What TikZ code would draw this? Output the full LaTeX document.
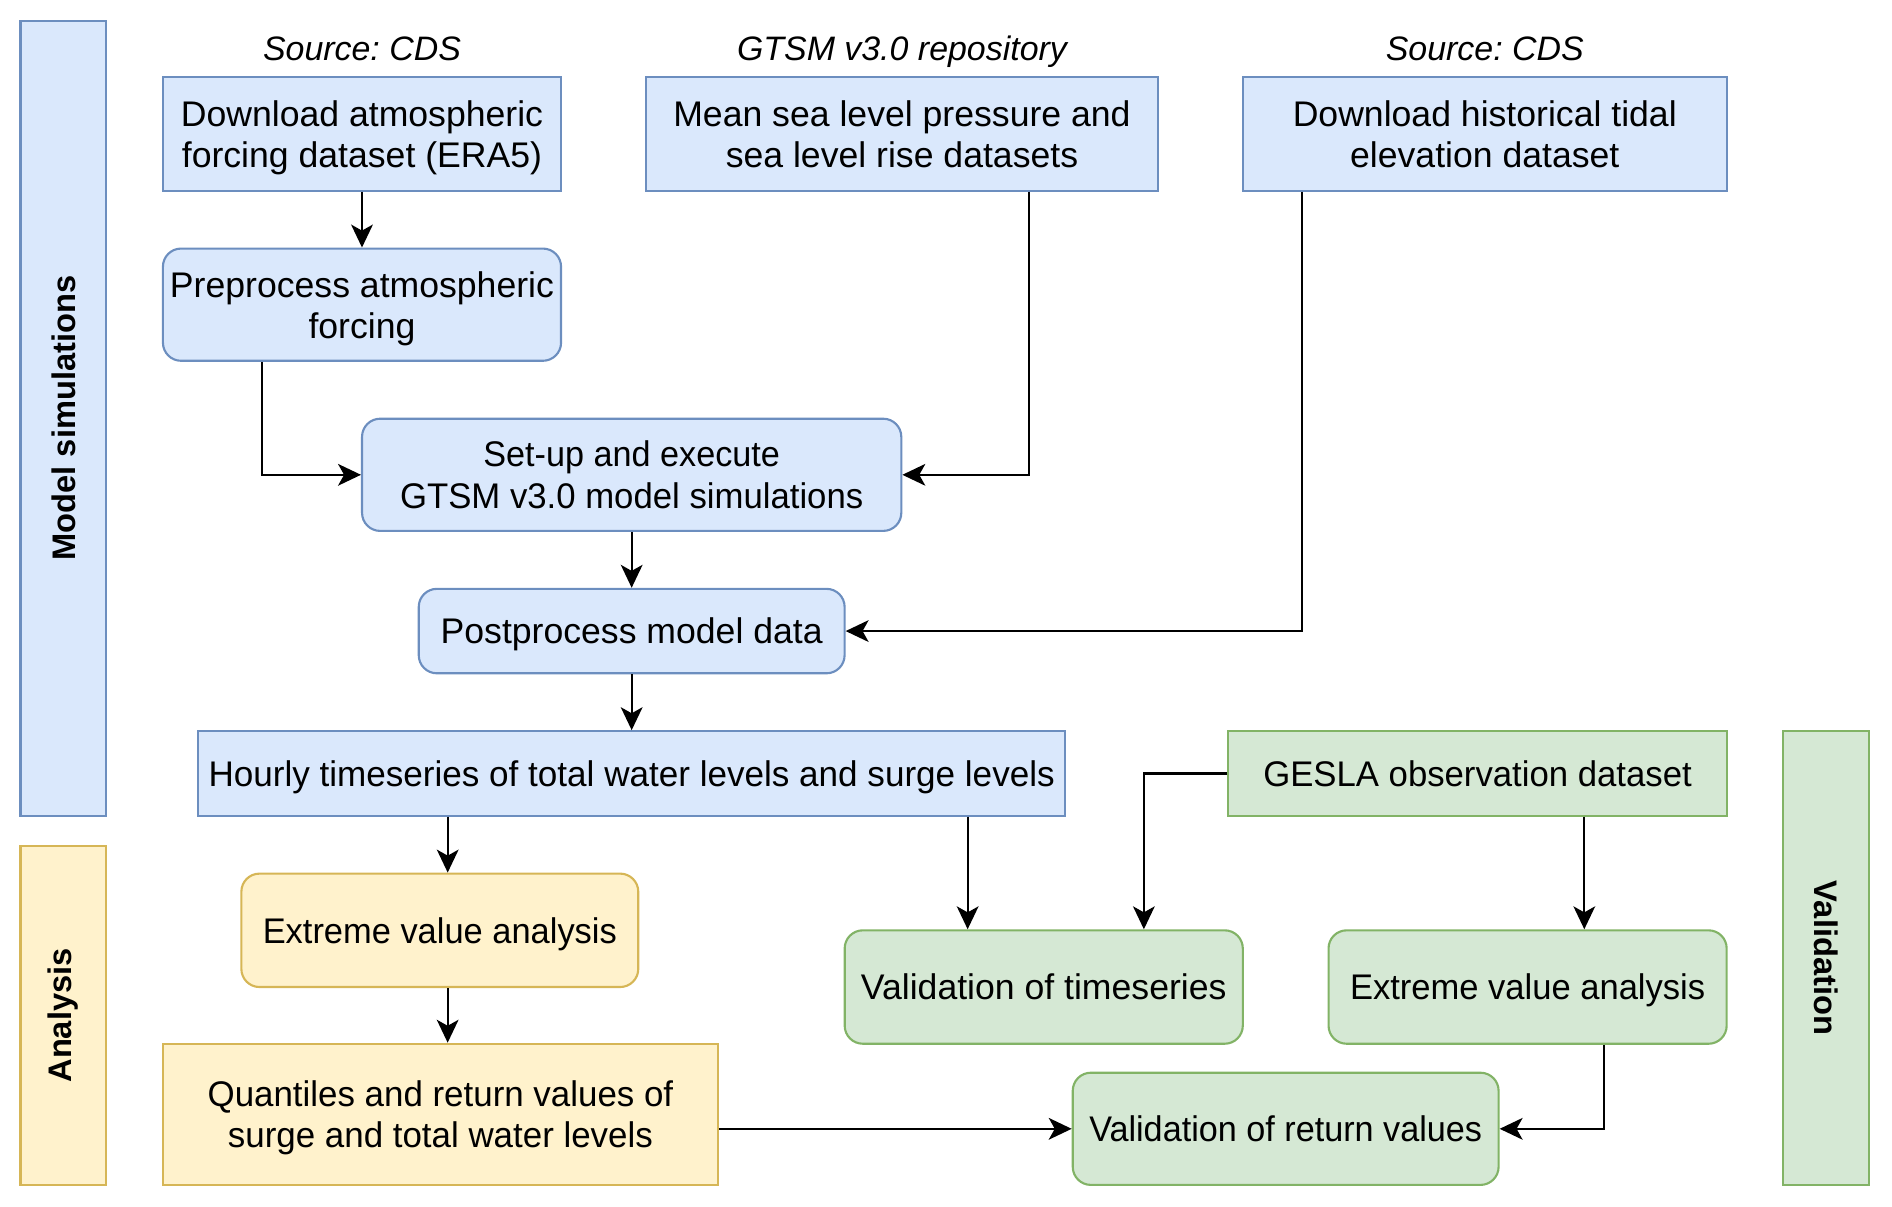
\documentclass[tikz,border=0pt]{standalone}
\usepackage{fontspec}
\setmainfont{Liberation Sans}
\usepackage{graphicx}
\usepackage{tikz}
\usetikzlibrary{arrows.meta, positioning}
\definecolor{simfill}{HTML}{DAE8FC}
\definecolor{simline}{HTML}{6C8EBF}
\definecolor{anafill}{HTML}{FFF2CC}
\definecolor{analine}{HTML}{D6B656}
\definecolor{valfill}{HTML}{D5E8D4}
\definecolor{valline}{HTML}{82B366}
\newcommand{\bodyfont}{\fontsize{16.8}{19.4}\selectfont}
\newcommand{\srcfont}{\fontsize{16}{19}\selectfont\itshape}
\newcommand{\barfont}{\fontsize{15.4}{18}\selectfont\bfseries}
% last line without descender, so that the text sits in the middle
\newcommand{\nodepth}[1]{\raisebox{0pt}[\height][0pt]{#1}}
\newcommand{\squeeze}[2]{\scalebox{#1}[1]{#2}}
\frenchspacing

\begin{document}
\begin{tikzpicture}[x=0.02cm, y=-0.02cm,
    box/.style={rectangle, line width=1pt, align=center, inner sep=0pt, font=\bodyfont},
    step box/.style={box, rounded corners=0.3cm},
    oneline/.style={text depth=0pt},
    simbox/.style={draw=simline, fill=simfill},
    anabox/.style={draw=analine, fill=anafill},
    valbox/.style={draw=valline, fill=valfill},
    bar/.style={rectangle, line width=1pt, inner sep=0pt, minimum height=1.42cm, font=\barfont},
    source/.style={font=\srcfont, inner sep=0pt, text depth=0pt},
    arrow/.style={line width=1pt, -{Stealth[length=0.38cm, width=0.36cm, inset=0.1cm]}}
]
    \useasboundingbox (0,0) rectangle (1568,1000);

    % phase bars
    \node[bar, simbox, rotate=90, minimum width=13.18cm] (simbar) at (52.5,346.5) {Model simulations};
    \node[bar, anabox, rotate=90, minimum width=5.62cm] (anabar) at (52.5,841.5) {Analysis};
    \node[bar, valbox, rotate=-90, minimum width=7.52cm] (valbar) at (1513.5,794) {Validation};

    % model simulations
    \node[box, simbox, minimum width=6.6cm, minimum height=1.88cm] (dlatm) at (300,111) {Download atmospheric\\\nodepth{forcing dataset (ERA5)}};
    \node[box, simbox, minimum width=8.5cm, minimum height=1.88cm] (msl) at (747.5,111) {Mean sea level pressure and\\sea level rise datasets};
    \node[box, simbox, minimum width=8.02cm, minimum height=1.88cm] (dltide) at (1230.5,111) {Download historical tidal\\elevation dataset};
    \node[source] (srcatm) at (300,40) {Source: CDS};
    \node[source] (srcmsl) at (747.5,40) {GTSM v3.0 repository};
    \node[source] (srctide) at (1230.5,40) {Source: CDS};

    \node[step box, simbox, minimum width=6.6cm, minimum height=1.86cm] (preproc) at (300,252.5) {Preprocess atmospheric\\\nodepth{forcing}};
    \node[step box, simbox, minimum width=8.94cm, minimum height=1.86cm] (setup) at (523.5,393.5) {\squeeze{0.96}{Set-up and execute}\\\squeeze{0.975}{GTSM v3.0 model simulations}};
    \node[step box, simbox, oneline, minimum width=7.06cm, minimum height=1.4cm] (postproc) at (523.5,523) {Postprocess model data};
    \node[box, simbox, oneline, minimum width=14.38cm, minimum height=1.4cm] (hourly) at (523.5,641) {\squeeze{0.985}{Hourly timeseries of total water levels and surge levels}};

    % analysis
    \node[step box, anabox, oneline, minimum width=6.58cm, minimum height=1.88cm] (eva) at (364.5,771) {\squeeze{0.967}{Extreme value analysis}};
    \node[box, anabox, minimum width=9.2cm, minimum height=2.34cm] (quant) at (365,923.5) {\squeeze{0.98}{Quantiles and return values of}\\\nodepth{\squeeze{0.98}{surge and total water levels}}};

    % validation
    \node[box, valbox, oneline, minimum width=8.26cm, minimum height=1.4cm] (gesla) at (1224.5,641) {\squeeze{0.975}{GESLA observation dataset}};
    \node[step box, valbox, oneline, minimum width=6.6cm, minimum height=1.88cm] (valts) at (865,818) {Validation of timeseries};
    \node[step box, valbox, oneline, minimum width=6.6cm, minimum height=1.88cm] (evaobs) at (1266,818) {\squeeze{0.97}{Extreme value analysis}};
    \node[step box, valbox, oneline, minimum width=7.06cm, minimum height=1.86cm] (valrv) at (1065.5,935.5) {\squeeze{0.96}{Validation of return values}};

    \draw[arrow] (dlatm) -- (preproc);
    \draw[arrow] ([xshift=-1.66cm]preproc.south) |- (setup.west);
    \draw[arrow] ([xshift=2.11cm]msl.south) |- (setup.east);
    \draw[arrow] ([xshift=-3.03cm]dltide.south) |- (postproc.east);
    \draw[arrow] (setup) -- (postproc);
    \draw[arrow] (postproc) -- (hourly);
    \draw[arrow] ([xshift=-3.05cm]hourly.south) -- ([xshift=-3.05cm]hourly.south |- eva.north);
    \draw[arrow] ([xshift=0.13cm]eva.south) -- ([xshift=0.13cm]eva.south |- quant.north);
    \draw[arrow] ([xshift=5.57cm]hourly.south) -- ([xshift=5.57cm]hourly.south |- valts.north);
    \draw[arrow] (gesla.west) -| ([xshift=1.66cm]valts.north);
    \draw[arrow] ([xshift=1.77cm]gesla.south) -- ([xshift=1.77cm]gesla.south |- evaobs.north);
    \draw[arrow] (quant.east |- valrv.west) -- (valrv.west);
    \draw[arrow] ([xshift=1.26cm]evaobs.south) |- (valrv.east);
\end{tikzpicture}
\end{document}
